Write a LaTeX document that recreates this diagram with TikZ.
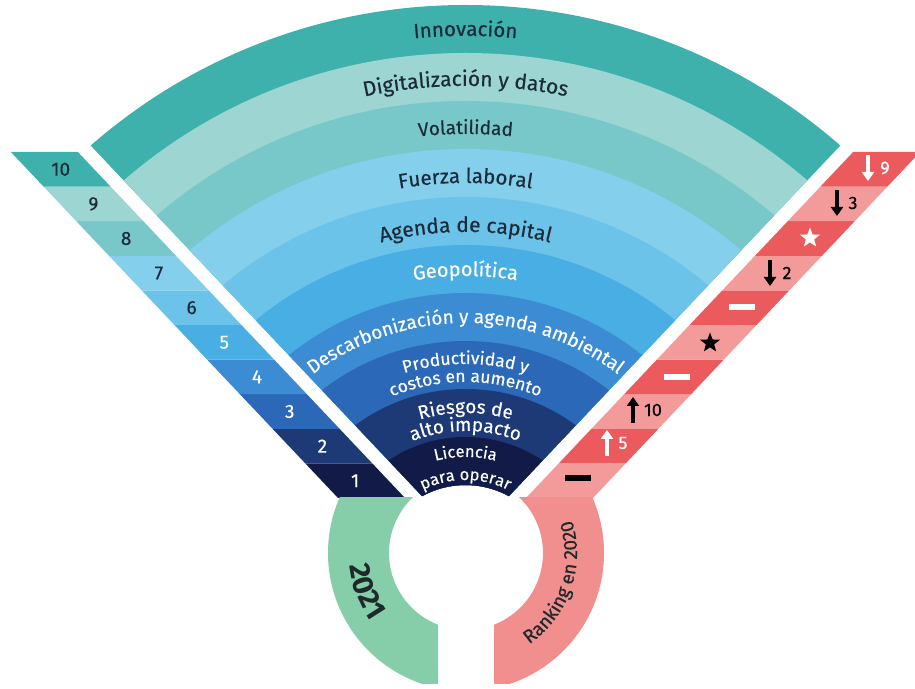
\documentclass[tikz,border=0pt]{standalone}
\usepackage{fontspec}
\setmainfont{Fira Sans}
\newfontfamily\medf{Fira Sans}[FakeBold=0.4]
\usetikzlibrary{decorations.text,arrows.meta,shapes.geometric,calc}
\definecolor{b10}{HTML}{3FB1AC}
\definecolor{b9}{HTML}{9DD5D2}
\definecolor{b8}{HTML}{78C8C9}
\definecolor{b7}{HTML}{84CFEB}
\definecolor{b6}{HTML}{6CC3EA}
\definecolor{b5}{HTML}{48AEE3}
\definecolor{b4}{HTML}{3C8CD4}
\definecolor{b3}{HTML}{2B69B8}
\definecolor{b2}{HTML}{1E3A76}
\definecolor{b1}{HTML}{121A48}
\definecolor{darktxt}{HTML}{1C2B3A}
\definecolor{redd}{HTML}{EB5A5C}
\definecolor{redl}{HTML}{F39B9B}
\definecolor{ringred}{HTML}{F18E8E}
\definecolor{ringgreen}{HTML}{86CDA9}
\definecolor{ringtxt}{HTML}{1E2A2A}
\newcommand\arclab[4]{%
  \path[decorate,decoration={text along path,text align=center,
    text={|\medf\fontsize{#2}{#2}\selectfont\color{#3}|#4}}]
    ($(C)+(150:#1)$) arc[start angle=150,end angle=30,radius=#1];}
\tikzset{
  numlab/.style={font=\medf\fontsize{19}{19}\selectfont,inner sep=0pt},
  symlab/.style={font=\medf\fontsize{18}{18}\selectfont,inner sep=0pt},
  starsym/.style={star,star points=5,star point ratio=2.4,minimum size=21pt,inner sep=0pt},
  uparrow/.style={line width=4pt,-{Triangle[width=12pt,length=9pt]}},
  dashsym/.style={minimum width=26pt,minimum height=6pt,inner sep=0pt}
}
\begin{document}
\begin{tikzpicture}[x=1pt,y=1pt]
\useasboundingbox (0,0) rectangle (915,688);
\coordinate (C) at (465.5,113);
\coordinate (R) at (466,135);
\coordinate (A) at (465.5,146);
% fan bands
\begin{scope}
\clip (A) -- (-84.1,727.3) -- (1015.1,727.3) -- cycle;
\foreach \k/\c in {10/b10,9/b9,8/b8,7/b7,6/b6,5/b5,4/b4,3/b3,2/b2,1/b1}{
  \pgfmathsetmacro\r{90+48*\k}
  \fill[\c,even odd rule] (C) circle[radius=\r] (C) circle[radius=90];
}
\end{scope}
% strips
\foreach \j/\c/\p/\t in {1/b1/redl/white,2/b2/redd/white,3/b3/redl/white,4/b4/redd/white,5/b5/redl/white,6/b6/redd/darktxt,7/b7/redl/darktxt,8/b8/redd/darktxt,9/b9/redl/darktxt,10/b10/redd/darktxt}{
  \pgfmathsetmacro\ya{190+34.6*(\j-1)}
  \pgfmathsetmacro\yb{190+34.6*\j}
  \pgfmathsetmacro\xa{405-0.9455*(\ya-190)}
  \pgfmathsetmacro\xb{405-0.9455*(\yb-190)}
  \pgfmathsetmacro\yc{190+34.6*(\j-0.5)}
  \pgfmathsetmacro\xc{371.5-0.9455*(\yc-190)}
  \fill[\c] (\xa-67,\ya) -- (\xa,\ya) -- (\xb,\yb) -- (\xb-67,\yb) -- cycle;
  \fill[\p] (931-\xa+67,\ya) -- (931-\xa,\ya) -- (931-\xb,\yb) -- (931-\xb+67,\yb) -- cycle;
  \node[numlab,text=\t] (L\j) at (\xc,\yc) {\j};
}
% rings
\begin{scope}
\clip (0,5) rectangle (438,190);
\fill[ringgreen,even odd rule] (R) circle[radius=138] (R) circle[radius=77];
\end{scope}
\begin{scope}
\clip (494,5) rectangle (915,190);
\fill[ringred,even odd rule] (R) circle[radius=138] (R) circle[radius=77];
\end{scope}
\path[decorate,decoration={text along path,text align=center,
  text={|\bfseries\fontsize{29}{29}\selectfont\color{ringtxt}|2021}}]
  ($(R)+(165:117)$) arc[start angle=165,end angle=237,radius=117];
\path[decorate,decoration={text along path,text align=center,
  text={|\medf\fontsize{19}{19}\selectfont\color{ringtxt}|Ranking en 2020}}]
  ($(R)+(-75:111)$) arc[start angle=-75,end angle=37,radius=111];
% fan labels
\arclab{539}{20.5}{darktxt}{Innovación}
\arclab{489}{21}{darktxt}{Digitalización y datos}
\arclab{441}{19}{darktxt}{Volatilidad}
\arclab{392}{20.5}{darktxt}{Fuerza laboral}
\arclab{343}{21}{darktxt}{Agenda de capital}
\arclab{299}{20}{white}{Geopolítica}
\arclab{252}{19}{white}{Descarbonización y agenda ambiental}
\arclab{211}{17.5}{white}{Productividad y}
\arclab{193}{17.5}{white}{costos en aumento}
\arclab{162}{19}{white}{Riesgos de}
\arclab{144}{19}{white}{alto impacto}
\arclab{118}{16.5}{white}{Licencia}
\arclab{95}{16.5}{white}{para operar}
% right strip symbols
\draw[white,uparrow] (868,533) -- (868,507);
\node[symlab,text=white] (r9) at (885,520) {9};
\draw[black,uparrow] (837,498) -- (837,472);
\node[symlab,text=black] (r3) at (853,485) {3};
\node[starsym,fill=white] (s8) at (810,450) {};
\draw[black,uparrow] (770,428) -- (770,402);
\node[symlab,text=black] (r2) at (787,415) {2};
\node[dashsym,fill=white] (d6) at (742,381) {};
\node[starsym,fill=black] (s5) at (710,345) {};
\node[dashsym,fill=white] (d4) at (677,311) {};
\draw[black,uparrow] (633,265) -- (633,291);
\node[symlab,text=black] (r10) at (653,278) {10};
\draw[white,uparrow] (607,232) -- (607,258);
\node[symlab,text=white] (r5) at (623,245) {5};
\node[dashsym,fill=black] (d1) at (578,210) {};
\end{tikzpicture}
\end{document}
